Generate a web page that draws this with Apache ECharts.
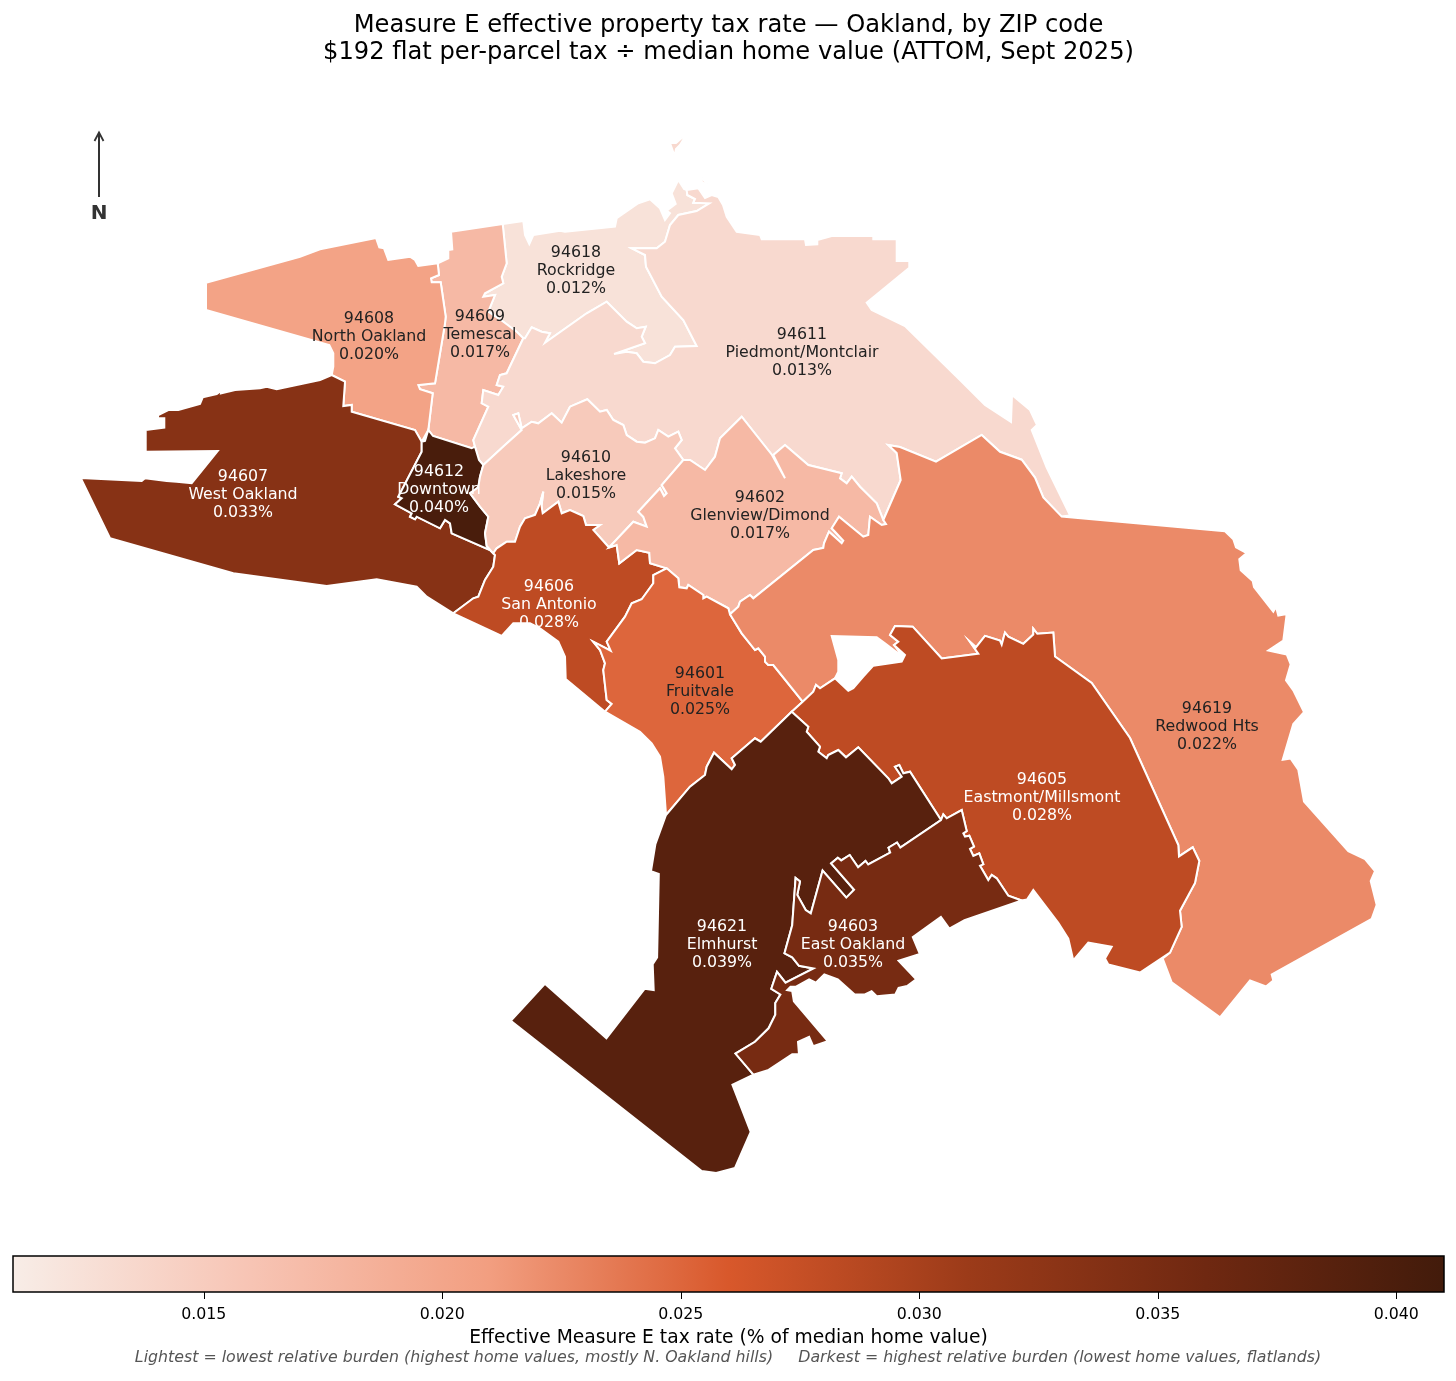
<!DOCTYPE html>
<html><head><meta charset="utf-8">
<script src="https://cdn.jsdelivr.net/npm/echarts@6/dist/echarts.min.js"></script>
<style>html,body{margin:0;padding:0;background:#fff}#c{width:1456px;height:1381px}</style>
</head><body><div id="c"></div>
<script>
// ---- values ----
const zipCodes = ['94618','94609','94608','94611','94607','94612','94610','94606','94602','94601','94619','94605','94621','94603'];
const zipNames = ['Rockridge','Temescal','North Oakland','Piedmont/Montclair','West Oakland','Downtown','Lakeshore','San Antonio','Glenview/Dimond','Fruitvale','Redwood Hts','Eastmont/Millsmont','Elmhurst','East Oakland'];
const zipRates = [0.0124,0.0174,0.0204,0.0134,0.0333,0.0402,0.0153,0.0282,0.0174,0.0250,0.0224,0.0282,0.0386,0.0351];
const labelPoints = [[576,270.5],[480,335],[369,337],[802,353],[243,495],[439,490],[586,476],[549,604.5],[760,515.5],[700,692],[1207,726.5],[1042,798],[722,945],[853,945]];
const lightLabelMin = 0.026;
const colorStops = ['#f8ede7','#f7c4b4','#f29e80','#d8582b','#9c3b19','#6f2811','#421b0b'];
const scaleMin = 0.011, scaleMax = 0.041;
const tickValues = [0.015,0.020,0.025,0.030,0.035,0.040];

// ---- ZIP boundaries (map units), traced as shared borders ----
const outer_608=[[206,282.7],[300,256.7],[320,249.3],[366,240],[376,238],[379.3,247.3],[384,248.3],[388.3,260],[410,256.7],[415,260],[418.3,266]];
const border_608_609=[[437.7,263.3],[439,275],[431,278.3],[431.7,282.3],[440.7,282.3],[445.7,316.7],[445,323.3],[435,383.3],[418.3,385],[420,389.3],[432.7,393.3],[428.3,430]];
const border_607_608=[[421.7,441.7],[415,430],[351.7,411.7],[351.7,405],[343.3,406],[345,381.7],[331.7,375]];
const coast_608=[[333.3,366.7],[333.3,353.3],[329.3,345],[206,310]];
const top_609=[[448.3,258.3],[448.3,250],[452.3,249.3],[451,231.7]];
const border_609_618=[[523.3,338.3],[516.7,331.7],[503.3,321.7],[488.3,311.7],[495,295],[483.3,296.7],[485,293.3],[503.3,283.3],[501.7,276.7],[506.7,263.3],[502.7,224]];
const border_609_611=[[523.3,338.3],[506.7,373.3],[500,375],[496.7,385],[503.3,386.7],[498.3,395],[483.3,390],[481.7,403.3],[488.3,406.7],[473.3,440],[475,446.7]];
const border_609_612=[[475,446.7],[471.7,448.3],[433,436],[428.3,430]];
const outer_618=[[523.3,221],[525,235],[529.3,244],[533.3,235],[560,230.7],[565,231.7],[615,226.7],[616.7,218.3],[638.3,203.3],[650,199.3],[660,208.3],[665,220],[670,213.3],[666.7,210.7],[675.7,204],[671.7,193.3],[678.3,180],[684,189]];
const sliver_a=[[670,143],[676,143],[687,133.5],[680,145],[676,149],[674.5,156],[672.5,150]];
const sliver_b=[[700.5,176],[710,187.5],[702,182]];
const border_618_611=[[525,338.3],[531.7,327.3],[541.7,331.7],[550,333.3],[545,342.7],[586.7,313.3],[606.7,301.7],[626.7,321.7],[636.7,328.3],[645.7,326.7],[641.7,336.7],[645,343.3],[614,354],[626.7,351.7],[636.7,353.3],[643.3,361.7],[655,363.3],[670,355],[675,346.7],[696.7,346],[683.3,320],[661.7,296.7],[646,266.7],[645,255],[631.7,248.3],[656.7,248.3],[665,241.7],[670,225],[678.3,215],[696.7,211],[709.3,203.3],[700,203],[693.3,202.8],[695,199],[687.3,195],[686.7,190]];
const outer_611=[[686.7,190],[698.3,188.3],[705,198],[711.7,195],[718.3,197],[723,205],[726.7,216.7],[736.7,231.7],[760,235],[761.7,239.3],[805,239.3],[806,245],[817.3,244.3],[817.3,240],[831.7,236],[873.3,236],[873.3,239.3],[896.7,239.3],[896.7,261],[909.3,261],[909.3,267.7],[866.7,302.7],[871.7,310],[905,326],[960,380],[985,405],[1011,422],[1012,395],[1030,410],[1037,425],[1031.7,430],[1046.7,467.7],[1070,515.4]];
const border_611_619=[[883.3,520],[900.7,480],[896.7,453],[888.3,445],[900,447],[936,461.7],[981.7,435],[1000,451.8],[1021.7,459.7],[1035,477.6],[1043.3,497.5],[1061.7,516.6]];
const border_611_602=[[883.3,520],[876.7,503.3],[860,486.7],[851.7,476.7],[846.7,483.3],[840,478.3],[841.7,473.3],[808.3,465],[785,445],[773.3,455],[785,478.3],[772,455],[741.7,416.7],[720,438.3],[715,456.7],[705,470],[690,460],[683.3,460]];
const border_611_610=[[683.3,460],[675,448.3],[681.7,440],[678.3,431.7],[668.3,436.7],[658.3,430],[655,438.3],[645,442.7],[636.7,441.7],[626.7,435],[623.3,425],[613.3,420],[606.7,410],[600,411.7],[587.3,399.3],[570,406.7],[561.7,422.7],[551.7,413.3],[538.3,423.3],[531.7,421.7],[521.7,428.3],[518.3,413.3],[513.3,415],[521.7,430],[505,445],[483.3,465]];
const border_612_611=[[483.3,465],[479,460],[475,446.7]];
const border_612_610=[[483.3,465],[480,476.7],[478.3,487.3],[470,493.3],[480,506.7],[488.3,516.7],[485,533.3],[486.7,546],[493.3,553.3]];
const border_607_612=[[421.7,441.7],[421.7,451.7],[398.3,496.7],[401.7,498.3],[395,504.3],[411.7,513.3],[410,516.7],[415,519.3],[416.7,516.7],[440,528.3],[445,520],[450,523.3],[451.7,533.3],[490,550]];
const border_607_606=[[493.3,553.3],[495,555],[493.3,566.7],[485,580],[478.3,596.7],[473.3,598.3],[453.3,613.3]];
const outer_607_south=[[426.7,596.7],[416.7,586.7],[376.7,579.3],[326.7,586],[233.3,573.3],[110,538.3]];
const outer_607_north=[[80.7,478],[141.7,481],[145,478.3],[166.7,481],[176.7,481.7],[191.7,483.3],[217.7,451],[145.7,451.7],[145.7,430],[164.3,427.7],[164.3,418.3],[157.7,418.3],[158.3,415],[168.3,410],[178.3,410],[200,404],[202.7,397.3],[216.7,394],[220,391.7],[222.7,385],[221,393.3],[235,390],[260,388.3],[266.7,386.7],[276.7,389.3],[320,380]];
const border_610_606=[[493.3,553.3],[496.7,548.3],[506.7,541.7],[515,541.7],[520,526.7],[525,518.3],[535,515],[540,503.3],[543.3,491.7],[541.5,506],[542.7,513.3],[558.3,501.7],[561.7,513.3],[570,510],[583.3,516],[586,525],[600,525],[593.3,530],[609,547.5]];
const border_610_602=[[683.3,460],[661.7,485],[666.7,493.3],[664,496],[660,488.3],[638.3,511.7],[643.3,516.7],[646.7,526.7],[633.3,521.7],[609,547.5]];
const border_606_602=[[609,547.5],[616.7,545],[619.3,563.3],[636.7,550],[649.3,552.7],[650,563.3],[666.7,568.3]];
const border_606_601=[[666.7,568.3],[653.3,575],[653.3,583.3],[641.7,599.3],[631.7,603.3],[625,616.7],[606.7,641.7],[610.7,650.7],[593.3,641.7],[600,650],[605,663.3],[603.3,670],[606.7,700],[611.7,704],[605,711.7]];
const outer_606=[[565.7,679],[565,656.7],[558.3,641.7],[540,628.3],[530,623.3],[513.3,623.3],[501.7,636]];
const border_601_602=[[666.7,568.3],[678.3,578.3],[679.3,587.3],[686.7,588.3],[688.3,585],[703.3,595],[703.3,598.3],[706.7,596.7],[728.3,608.3],[730,614.3]];
const border_601_619=[[730,614.3],[741.7,633.3],[755,650],[758.3,648.3],[765,656.7],[765,661.7],[768.3,665],[773.3,665],[802.7,701.7]];
const border_601_621=[[791.7,711.7],[760.7,741.7],[755,738.3],[731.7,758.3],[735,765],[731.7,769.3],[714,752.7],[706.7,766.7],[705,775],[690,786.7],[666,815]];
const outer_601=[[663.3,776.7],[660,756.7],[651.7,743.3],[640,731.7]];
const border_602_619=[[730,614.3],[738.3,606.7],[740,601.7],[750,595],[753.3,598.3],[813.3,550],[823.3,548],[824,543.3],[829,531.7],[841.7,543.3],[843.3,540.7],[831.7,528.3],[839,516.7],[863.3,536.7],[868.3,535],[870,516.7],[881.7,525],[886,524],[883.3,520]];
const outer_619=[[1225,531.3],[1233.3,539.2],[1236,547.2],[1246.7,553.1],[1239.3,559.1],[1240.7,570.2],[1252.7,581],[1254,587],[1273.3,611.6],[1276,606.8],[1278.3,615.5],[1286.7,614],[1283.3,640.6],[1268.3,650.5],[1286.7,654.5],[1290.7,664.4],[1286,680.3],[1293.3,690.3],[1304,712.1],[1293.3,724],[1282.7,759.8],[1290.7,758.6],[1298.3,769.8],[1304,801.6],[1348.3,851.2],[1365,859.2],[1375,871.1],[1370.7,881],[1376.7,904.9],[1371.7,918.8],[1271.7,974.5],[1273.3,980.4],[1266,986.4],[1250,980.4],[1220,1017.4],[1171.7,982.4],[1162.7,958.6]];
const border_605_619=[[912.7,626.7],[941.7,658.5],[978.3,653.7],[970,641.8],[976,647.3],[985,635.8],[1000,640.6],[1001.7,644.6],[1005,632.6],[1008.3,636.6],[1023.3,643.8],[1033.3,634.6],[1033.3,628.7],[1037.3,633.8],[1053.3,632.6],[1055,656.5],[1091.7,683],[1130,738],[1178.3,845],[1179,856.4],[1192.7,847.3],[1199.3,861],[1195,883],[1180,910.8],[1181.7,926.8],[1170,952.6]];
const border_605_619_hook=[[895,626],[890,635],[898.3,641.7],[894,645]];
const border_605_619_west=[[835,678.3],[820,688.3],[816,685],[813.3,691.7],[802.7,701.7]];
const lake_north=[[903,657],[885,643.3],[876.7,637.3],[831.7,636],[838.3,660],[838.3,671.7],[835,678.3]];
const lake_south=[[835,678.3],[848.3,690.7],[853.3,688.3],[863.3,676.7],[873.3,665.7],[901.7,661.7],[905,655]];
const outer_605=[[1140,972.5],[1108.3,964.5],[1105,958.6],[1111.7,946.7],[1088.3,942.7],[1073.3,960.5],[1068.3,938.7],[1058.3,922.8],[1033.3,890],[1027,899.5]];
const border_603_605=[[1021.7,900.5],[1008.3,895.7],[996.7,878.3],[991.7,875],[988.3,880],[980,865.7],[983.3,864.3],[979.3,853.3],[973.3,856],[970,849],[974,846.7],[969.3,835.7],[965,836.7],[963.3,833.3],[966.7,831],[961.7,810],[946.7,818.3],[943.3,814.3],[941,820]];
const border_605_621=[[941,820],[910,771.7],[903.3,773.3],[899.3,765],[895,766.7],[901.7,776.7],[891.7,783.3],[888.3,778.3],[858.3,747.3],[846,757.3],[838.3,750],[828.3,755],[826.7,758.3],[818.3,751.7],[820,746.7],[806.7,731.7],[808.3,726.7],[791.7,711.7]];
const border_603_621=[[941,820],[900.3,847.6],[897,842.5],[888.5,847.6],[890.2,852.6],[868.2,864.5],[865.5,861],[858.1,867.2],[849.7,855],[841.2,860.4],[837.8,857.7],[831.1,863.4],[854.1,889.8],[846.3,897.6],[822.6,870.5],[810.8,913.4],[805.7,910],[797.3,894.9],[800,881.4],[795.6,878],[792.2,925.3],[784.5,953.3],[792.2,957.4],[799,965.8],[813.5,968.5],[785.5,982.7],[777,971.9],[771.3,988.8],[780.4,994.5],[775.3,1003],[775.3,1014.8],[768.6,1028.3],[755,1041.8],[735.5,1053.6],[753.4,1074.6]];
const outer_621=[[732.4,1084.7],[750.7,1132],[735,1168],[716.2,1173],[701.7,1171],[510.8,1020.9],[544.9,983.7],[606.4,1038.4],[644.6,988.8],[653.7,990.1],[652.7,964.1],[657.1,957.4],[658.8,873.9],[651,871.2],[655.4,844.2]];
const outer_603=[[768.6,1069.9],[792.2,1054.3],[799,1054.3],[798,1041.8],[809.1,1036.8],[813.2,1046.2],[827.7,1041.1],[793.9,1001.3],[792.2,991.1],[787.2,990.1],[790.5,986.8],[795.6,986.8],[809.1,979.3],[815.9,982.7],[824.3,974.3],[837.8,979.3],[854.7,994.5],[864.9,994.5],[871.6,991.1],[876.7,996.2],[895.3,994.5],[898.6,987.8],[907.1,986.1],[916.2,979.3],[898.6,960.7],[919.9,954],[912.8,937.1],[940.9,916.8],[949.3,928.6],[964.5,920.2]];

const rev = a => a.slice().reverse();
const ring = (...parts) => { const r = [].concat(...parts); r.push(r[0]); return r; };
const zipShapes = {
 '94608':[ring(outer_608,border_608_609,border_607_608,coast_608)],
 '94609':[ring(rev(border_609_618),border_609_611,border_609_612,rev(border_608_609),top_609)],
 '94618':[ring(rev(border_609_618).slice(0,1),outer_618,rev(border_618_611),border_609_618)],
 '94611':[ring(outer_611,rev(border_611_619),border_611_602,border_611_610,border_612_611,rev(border_609_611),border_618_611),ring(sliver_a),ring(sliver_b)],
 '94607':[ring(outer_607_north,rev(border_607_608),border_607_612,border_607_606,outer_607_south)],
 '94612':[ring([[425,441]],rev(border_609_612),rev(border_612_611),border_612_610,rev(border_607_612))],
 '94610':[ring(rev(border_611_610),border_610_602,rev(border_610_606),rev(border_612_610))],
 '94606':[ring(border_610_606,border_606_602,border_606_601,outer_606,rev(border_607_606))],
 '94602':[ring(rev(border_611_602),rev(border_602_619),rev(border_601_602),rev(border_606_602),rev(border_610_602))],
 '94601':[ring(border_601_602,border_601_619,border_601_621,outer_601,rev(border_606_601))],
 '94619':[ring(outer_619,rev(border_605_619),border_605_619_hook,lake_north,border_605_619_west,rev(border_601_619),border_602_619,border_611_619)],
 '94605':[ring(rev(border_605_619_west),lake_south,rev(border_605_619_hook),border_605_619,outer_605,border_603_605,border_605_621)],
 '94621':[ring(rev(border_605_621),border_603_621,outer_621,rev(border_601_621))],
 '94603':[ring(outer_603,border_603_605,border_603_621)]
};

const features = zipCodes.map((z,i)=>({type:'Feature',
  properties:{name:z,cp:labelPoints[i]},
  geometry:{type:'MultiPolygon',coordinates:zipShapes[z].map(r=>[r])}}));
echarts.registerMap('oakland',{type:'FeatureCollection',features});

let x0=1e9,x1=-1e9,y0=1e9,y1=-1e9;
Object.values(zipShapes).forEach(rs=>rs.forEach(r=>r.forEach(p=>{x0=Math.min(x0,p[0]);x1=Math.max(x1,p[0]);y0=Math.min(y0,p[1]);y1=Math.max(y1,p[1]);})));

const FONT='"DejaVu Sans"';
const chart=echarts.init(document.getElementById('c'),null,{renderer:'canvas',width:1456,height:1381});
const gradient=new echarts.graphic.LinearGradient(0,0,1,0,colorStops.map((c,i)=>({offset:i/(colorStops.length-1),color:c})));

chart.setOption({
 animation:false,
 backgroundColor:'#fff',
 textStyle:{fontFamily:FONT},
 title:[
  {text:'Measure E effective property tax rate \u2014 Oakland, by ZIP code\n$192 flat per-parcel tax \u00f7 median home value (ATTOM, Sept 2025)',
   left:728.5,top:12,textAlign:'center',padding:0,
   textStyle:{fontFamily:FONT,fontSize:24.2,fontWeight:'normal',color:'#000',lineHeight:27,align:'center'}},
  {text:'Lightest = lowest relative burden (highest home values, mostly N. Oakland hills)     Darkest = highest relative burden (lowest home values, flatlands)',
   left:728,top:1350,textAlign:'center',padding:0,
   textStyle:{fontFamily:FONT,fontSize:15.8,fontStyle:'italic',fontWeight:'normal',color:'#555'}}
 ],
 visualMap:{show:false,type:'continuous',seriesIndex:0,min:scaleMin,max:scaleMax,inRange:{color:colorStops}},
 grid:{left:13,top:1256,width:1431,height:36,containLabel:false},
 xAxis:{type:'value',min:scaleMin,max:scaleMax,position:'bottom',
  name:'Effective Measure E tax rate (% of median home value)',nameLocation:'middle',nameGap:37,
  nameTextStyle:{fontFamily:FONT,fontSize:18.7,color:'#000',verticalAlign:'top'},
  splitLine:{show:false},axisLine:{show:false},
  axisTick:{show:true,length:7,inside:false,customValues:tickValues,lineStyle:{color:'#000',width:1}},
  axisLabel:{show:true,margin:15,customValues:tickValues,fontFamily:FONT,fontSize:15.8,color:'#000',formatter:v=>v.toFixed(3)}},
 yAxis:{type:'value',min:0,max:1,show:false},
 graphic:{elements:[
  {type:'line',silent:true,shape:{x1:99,y1:197,x2:99,y2:133},style:{stroke:'#333',lineWidth:2}},
  {type:'polyline',silent:true,shape:{points:[[94.5,141],[99,132.5],[103.5,141]]},style:{stroke:'#333',lineWidth:1.8,fill:null}},
  {type:'text',silent:true,x:99,y:214,style:{text:'N',fontFamily:FONT,fontWeight:'bold',fontSize:20,fill:'#333',align:'center',verticalAlign:'middle'}}
 ]},
 series:[
  {type:'map',map:'oakland',silent:true,
   projection:{project:p=>[p[0],p[1]],unproject:p=>[p[0],p[1]]},
   layoutCenter:[(x0+x1)/2,(y0+y1)/2],layoutSize:Math.max(x1-x0,y1-y0),
   itemStyle:{borderColor:'#fff',borderWidth:2},
   emphasis:{disabled:true},select:{disabled:true},
   label:{show:true,fontFamily:FONT,fontSize:15.8,lineHeight:18,align:'center',verticalAlign:'middle',
     formatter:p=>p.name+'\n'+zipNames[zipCodes.indexOf(p.name)]+'\n'+p.value.toFixed(3)+'%'},
   data:zipCodes.map((z,i)=>({name:z,value:zipRates[i],label:{color:zipRates[i]>=lightLabelMin?'#fff':'#222'}}))
  },
  {type:'custom',coordinateSystem:'cartesian2d',silent:true,
   data:[[scaleMin,scaleMax]],encode:{x:[0,1]},
   renderItem:(params,api)=>{
     const a=api.coord([api.value(0),0]),b=api.coord([api.value(1),1]);
     return {type:'rect',shape:{x:a[0],y:b[1],width:b[0]-a[0],height:a[1]-b[1]},style:{fill:gradient,stroke:'#000',lineWidth:1.5}};
   }}
 ]
});
</script></body></html>
